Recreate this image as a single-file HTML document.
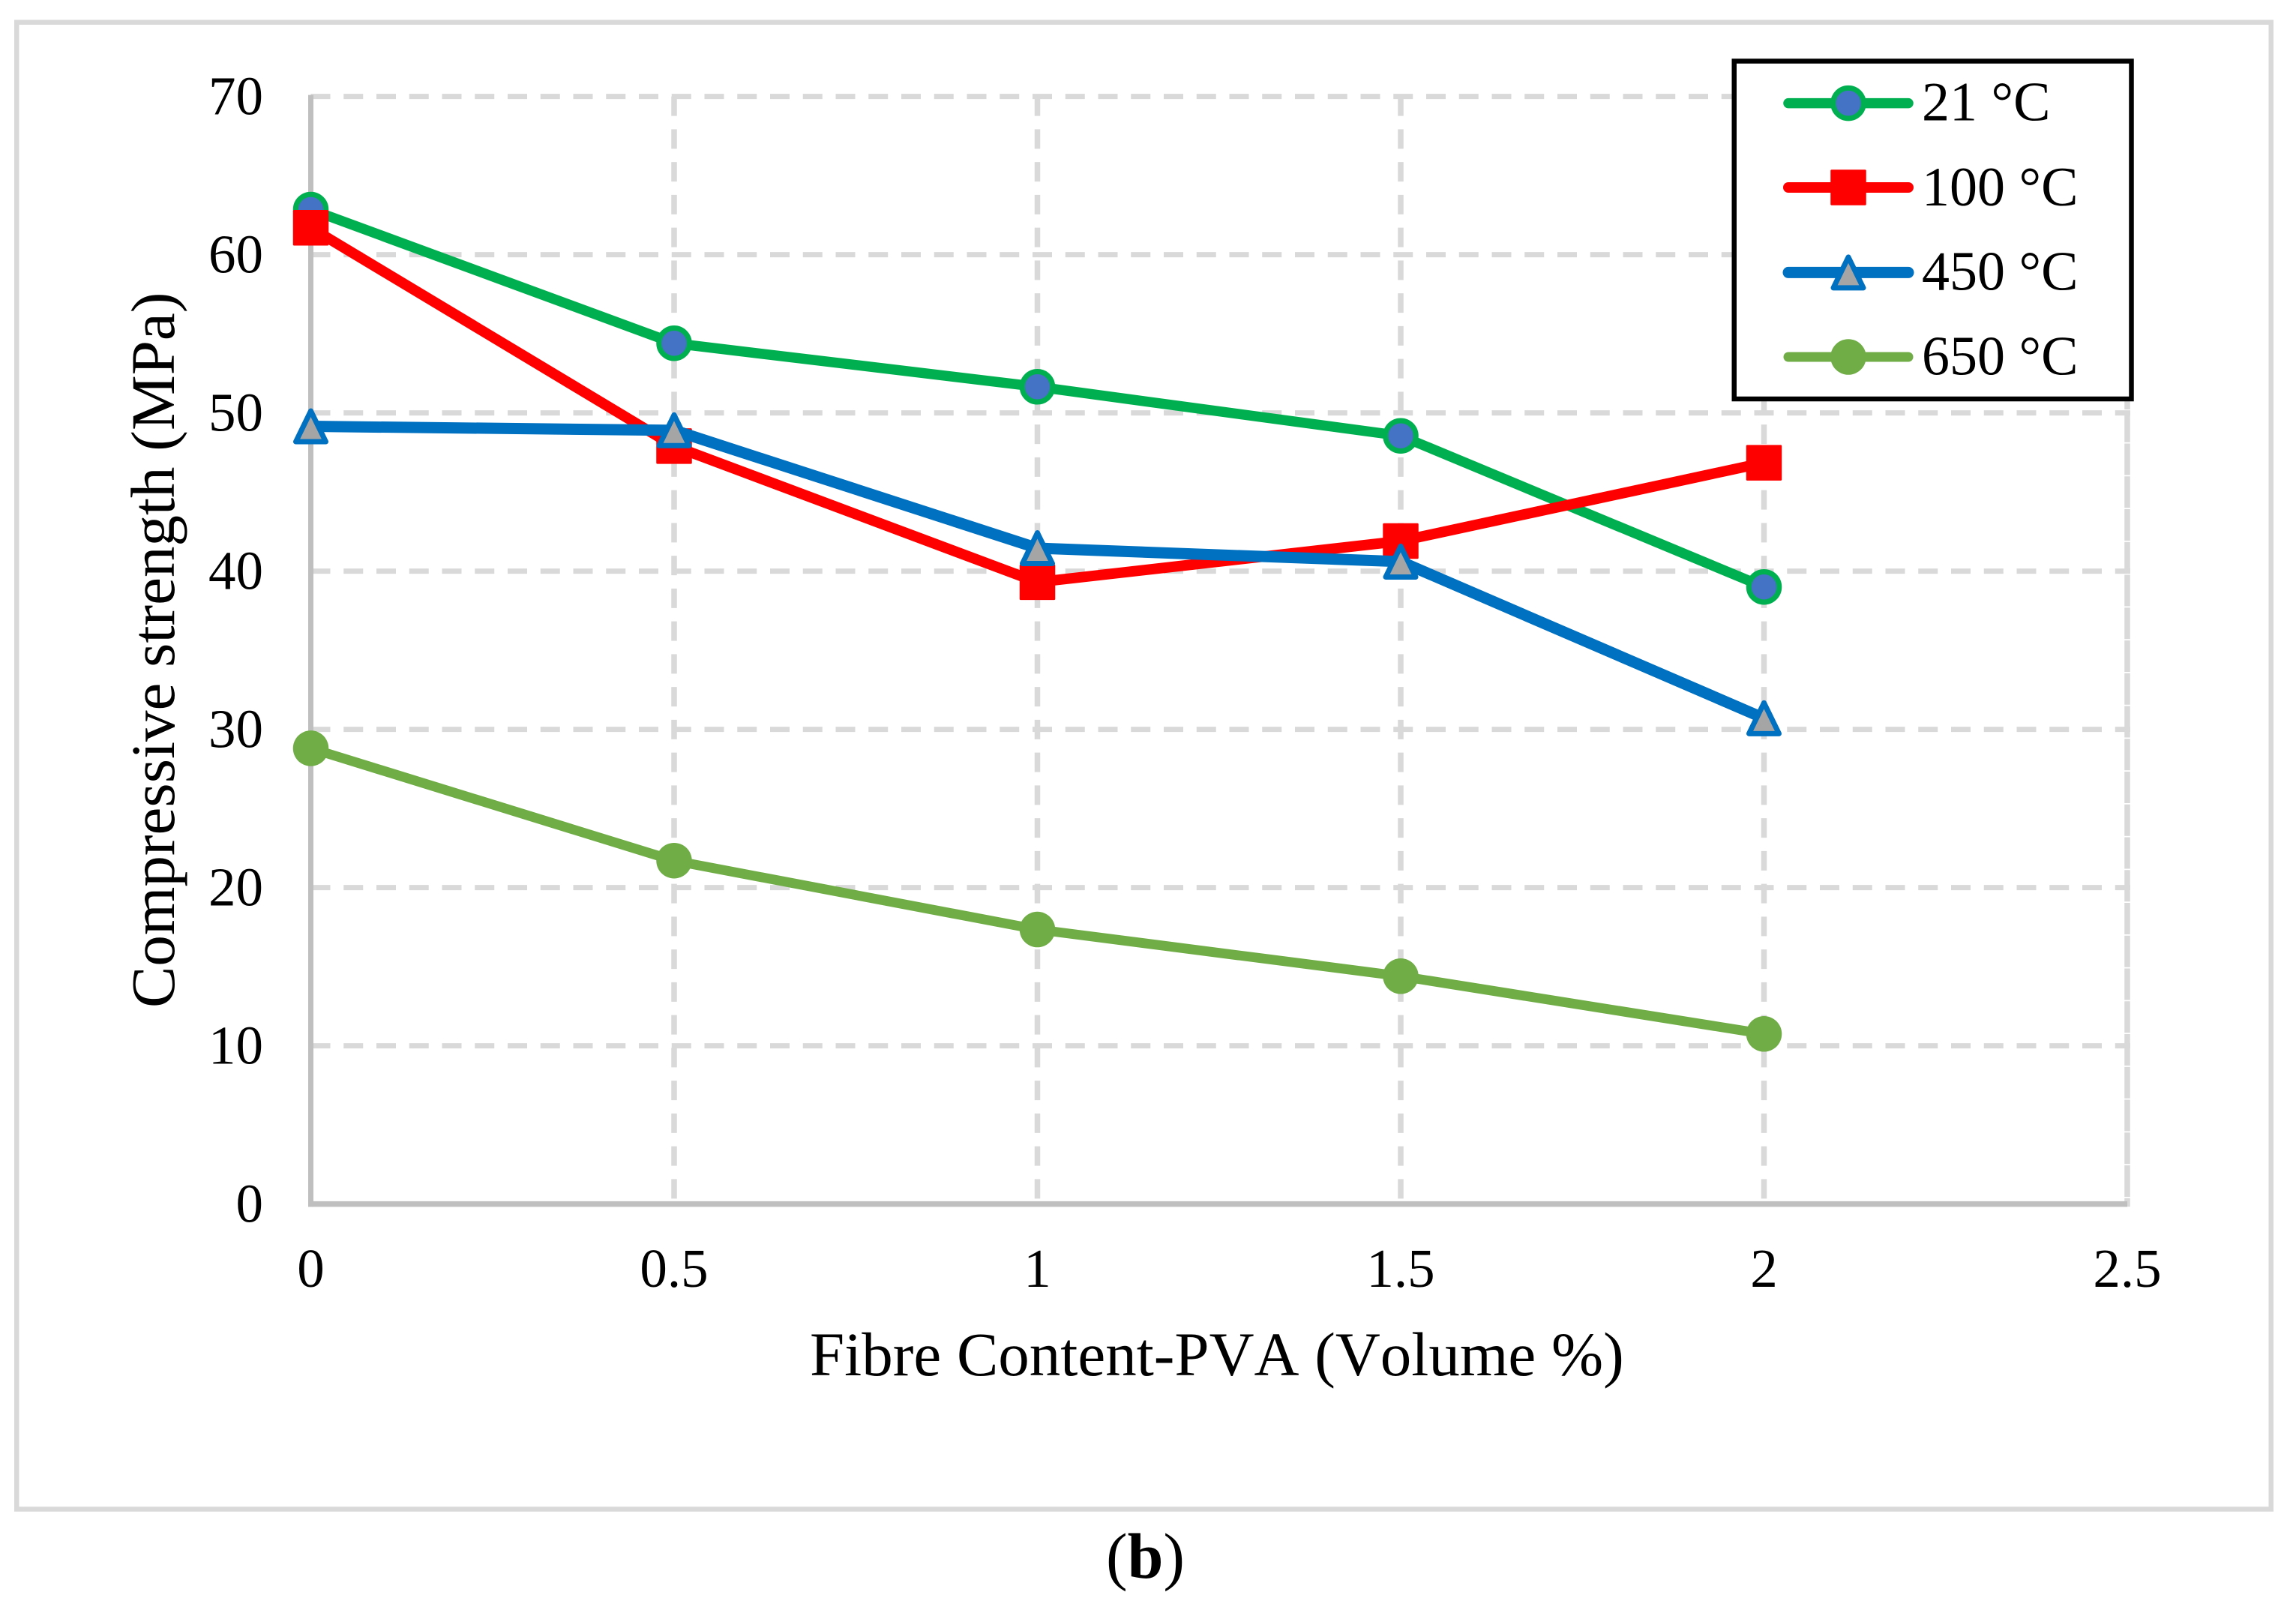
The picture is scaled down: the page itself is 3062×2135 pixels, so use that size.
<!DOCTYPE html>
<html lang="en">
<head>
<meta charset="utf-8">
<title>Compressive strength vs fibre content</title>
<style>
html,body{margin:0;padding:0;background:#fff;}
svg{display:block;}
text{font-family:"Liberation Serif","Times New Roman",serif;fill:#000;font-kerning:none;}
</style>
</head>
<body>
<svg id="chart" xmlns="http://www.w3.org/2000/svg" width="3062" height="2135" viewBox="0 0 3062 2135">
  <rect x="22.25" y="29.75" width="3006.5" height="1982.75" fill="#fff" stroke="#d9d9d9" stroke-width="6.5"/>
  <g id="grid"></g>
  <g id="axes"></g>
  <g id="ticks"></g>
  <g id="series"></g>
  <text x="1080" y="1834" font-size="83">Fibre Content-PVA (Volume %)</text>
  <text transform="translate(232 1344) rotate(-90)" font-size="83">Compressive strength (MPa)</text>
  <g id="legend">
    <rect x="2312.75" y="81.5" width="529.75" height="450.5" fill="#fff" stroke="#000" stroke-width="6.5"/>
  </g>
  <text x="1527.5" y="2104" font-size="86" text-anchor="middle">(<tspan font-weight="bold">b</tspan>)</text>
</svg>
<script>
// Chart data
var xValues = [0, 0.5, 1, 1.5, 2];
var xTickLabels = ['0', '0.5', '1', '1.5', '2', '2.5'];
var xTicks = [0, 0.5, 1, 1.5, 2, 2.5];
var yTicks = [0, 10, 20, 30, 40, 50, 60, 70];
var seriesNames = ['21 °C', '100 °C', '450 °C', '650 °C'];
var values21 = [62.85, 54.4, 51.65, 48.55, 39.0];
var values100 = [61.7, 47.9, 39.3, 41.9, 46.85];
var values450 = [49.15, 48.9, 41.45, 40.6, 30.7];
var values650 = [28.8, 21.7, 17.35, 14.4, 10.75];

var allValues = [values21, values100, values450, values650];
var seriesSlugs = ['21c', '100c', '450c', '650c'];
var lineColors = ['#00b050', '#ff0000', '#0070c0', '#70ad47'];
var lineWidths = [13.5, 14, 15, 13];
var markerKinds = ['ring', 'square', 'triangle', 'dot'];

var NS = 'http://www.w3.org/2000/svg';

function xScale(v) { return 414.5 + v * 969; }
function yScale(v) { return 1605.6 - v * 21.1; }

function make(tag, parent) {
  var el = document.createElementNS(NS, tag);
  parent.appendChild(el);
  return el;
}

function drawMarker(parent, kind, cx, cy, slug) {
  var m;
  if (kind === 'ring') {
    m = make('circle', parent);
    
    
    m.setAttribute('cx', cx);
    m.setAttribute('cy', cy);
    m.setAttribute('r', 20.25);
    m.setAttribute('fill', '#4472c4');
    m.setAttribute('stroke', '#00b050');
    m.setAttribute('stroke-width', 7);
  } else if (kind === 'square') {
    m = make('rect', parent);
    
    
    m.setAttribute('x', cx - 23.75);
    m.setAttribute('y', cy - 23.75);
    m.setAttribute('width', 47.5);
    m.setAttribute('height', 47.5);
    m.setAttribute('rx', 1.5);
    m.setAttribute('fill', '#ff0000');
  } else if (kind === 'triangle') {
    m = make('polygon', parent);
    
    
    m.setAttribute('points', cx + ',' + (cy - 20.5) + ' ' + (cx + 20) + ',' + (cy + 20.5) + ' ' + (cx - 20) + ',' + (cy + 20.5));
    m.setAttribute('fill', '#a5a5a5');
    m.setAttribute('stroke', '#0070c0');
    m.setAttribute('stroke-width', 7);
    m.setAttribute('stroke-linejoin', 'round');
  } else {
    m = make('circle', parent);
    
    
    m.setAttribute('cx', cx);
    m.setAttribute('cy', cy);
    m.setAttribute('r', 23.75);
    m.setAttribute('fill', '#70ad47');
  }
}

var gridG = document.getElementById('grid');
var axesG = document.getElementById('axes');
var ticksG = document.getElementById('ticks');
var seriesG = document.getElementById('series');
var legendG = document.getElementById('legend');

var xMin = xScale(0), xMax = xScale(2.5);
var yTop = yScale(70), yBottom = yScale(0);

// horizontal gridlines
yTicks.forEach(function (t) {
  if (t === 0) return;
  var g = make('line', gridG);
  
  
  g.setAttribute('x1', xMin);
  g.setAttribute('x2', xMax + 4);
  g.setAttribute('y1', yScale(t));
  g.setAttribute('y2', yScale(t));
  g.setAttribute('stroke', '#d9d9d9');
  g.setAttribute('stroke-width', 7);
  g.setAttribute('stroke-dasharray', '26 17.75');
});

// vertical gridlines
xTicks.forEach(function (t) {
  if (t === 0) return;
  var g = make('line', gridG);
  
  
  g.setAttribute('x1', xScale(t));
  g.setAttribute('x2', xScale(t));
  g.setAttribute('y1', yTop);
  g.setAttribute('y2', t === 2.5 ? yBottom + 3.5 : yBottom - 7);
  g.setAttribute('stroke', '#d9d9d9');
  g.setAttribute('stroke-width', 7.5);
  g.setAttribute('stroke-dasharray', t === 2.5 ? '23.6 1.8 18.35 0' : '26 17.75');
});

// axis lines
var yAxis = make('line', axesG);


yAxis.setAttribute('x1', xMin);
yAxis.setAttribute('x2', xMin);
yAxis.setAttribute('y1', yTop - 2);
yAxis.setAttribute('y2', yBottom + 3.5);
yAxis.setAttribute('stroke', '#bfbfbf');
yAxis.setAttribute('stroke-width', 7);

var xAxis = make('line', axesG);


xAxis.setAttribute('x1', xMin - 3.5);
xAxis.setAttribute('x2', xMax);
xAxis.setAttribute('y1', yBottom);
xAxis.setAttribute('y2', yBottom);
xAxis.setAttribute('stroke', '#bfbfbf');
xAxis.setAttribute('stroke-width', 7.5);

// tick labels
yTicks.forEach(function (t) {
  var l = make('text', ticksG);
  
  
  l.setAttribute('x', 351);
  l.setAttribute('y', yScale(t) + 24);
  l.setAttribute('font-size', 73);
  l.setAttribute('text-anchor', 'end');
  l.textContent = String(t);
});
xTicks.forEach(function (t, i) {
  var l = make('text', ticksG);
  
  
  l.setAttribute('x', xScale(t));
  l.setAttribute('y', 1716);
  l.setAttribute('font-size', 73);
  l.setAttribute('text-anchor', 'middle');
  l.textContent = xTickLabels[i];
});

// series
allValues.forEach(function (vals, s) {
  var g = make('g', seriesG);
  
  

  var pts = vals.map(function (v, i) { return xScale(xValues[i]) + ',' + yScale(v); }).join(' ');
  var line = make('polyline', g);
  
  
  line.setAttribute('points', pts);
  line.setAttribute('fill', 'none');
  line.setAttribute('stroke', lineColors[s]);
  line.setAttribute('stroke-width', lineWidths[s]);
  line.setAttribute('stroke-linejoin', 'round');

  vals.forEach(function (v, i) {
    drawMarker(g, markerKinds[s], xScale(xValues[i]), yScale(v), seriesSlugs[s] + '-' + i);
  });
});

// legend entries
var legendY = [137.6, 250, 363.4, 476];
var legendBaseline = [160.7, 273.8, 386.6, 499.7];
seriesNames.forEach(function (name, s) {
  var g = make('g', legendG);
  
  

  var line = make('line', g);
  
  
  line.setAttribute('x1', 2385);
  line.setAttribute('x2', 2545);
  line.setAttribute('y1', legendY[s]);
  line.setAttribute('y2', legendY[s]);
  line.setAttribute('stroke', lineColors[s]);
  line.setAttribute('stroke-width', lineWidths[s]);
  line.setAttribute('stroke-linecap', 'round');

  drawMarker(g, markerKinds[s], 2465, legendY[s], 'legend-' + seriesSlugs[s]);

  var label = make('text', g);
  
  
  label.setAttribute('x', 2563);
  label.setAttribute('y', legendBaseline[s]);
  label.setAttribute('font-size', 74);
  label.textContent = name;
});
</script>
</body>
</html>
